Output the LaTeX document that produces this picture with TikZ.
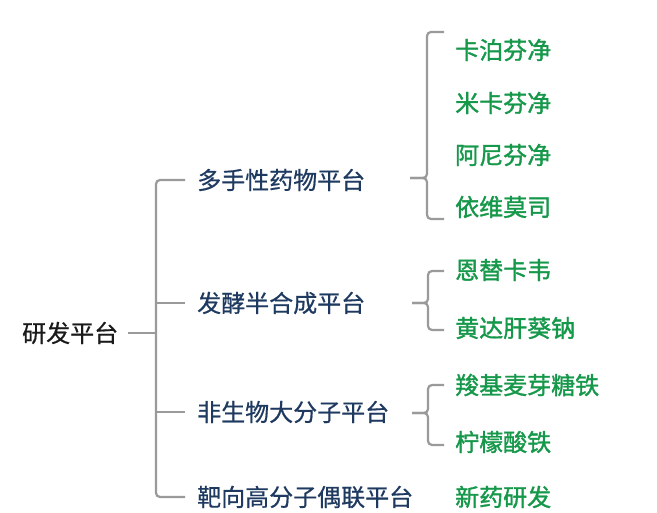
\documentclass[tikz,border=0pt]{standalone}
\usepackage{fontspec}
\newfontfamily\cjk[FakeBold=0.6]{Noto Sans CJK SC}
\newfontfamily\cjkb[FakeBold=1.4]{Noto Sans CJK SC}
\definecolor{conncol}{HTML}{9A9A9A}
\definecolor{navytext}{HTML}{1F3A60}
\definecolor{greentext}{HTML}{16984A}
\definecolor{roottext}{HTML}{1A1A1A}
\tikzset{
  conn/.style={draw=conncol, line width=2.2pt, rounded corners=4pt},
  txt/.style={inner sep=0pt, anchor=west, font=\cjk\fontsize{24}{26}\selectfont},
  rootlbl/.style={txt, text=roottext},
  midlbl/.style={txt, text=navytext},
  leaflbl/.style={txt, text=greentext, font=\cjkb\fontsize{24}{26}\selectfont},
}
\begin{document}
\begin{tikzpicture}[x=1pt,y=-1pt]
\useasboundingbox[fill=white] (0,0) rectangle (657,513);
% nodes
\node[rootlbl] (root) at (22,333) {研发平台};
\node[midlbl] (p1) at (197,180) {多手性药物平台};
\node[midlbl] (p2) at (197,303) {发酵半合成平台};
\node[midlbl] (p3) at (197,412) {非生物大分子平台};
\node[midlbl] (p4) at (197,497) {靶向高分子偶联平台};
\node[leaflbl] (c1) at (455,50) {卡泊芬净};
\node[leaflbl] (c2) at (455,103) {米卡芬净};
\node[leaflbl] (c3) at (455,155) {阿尼芬净};
\node[leaflbl] (c4) at (455,207) {依维莫司};
\node[leaflbl] (c5) at (455,270) {恩替卡韦};
\node[leaflbl] (c6) at (455,328) {黄达肝葵钠};
\node[leaflbl] (c7) at (455,385) {羧基麦芽糖铁};
\node[leaflbl] (c8) at (455,442) {柠檬酸铁};
\node[leaflbl] (c9) at (455,497) {新药研发};
% trunk
\coordinate (t) at (156,333);
\draw[conn] ([xshift=-12pt]p1.west) -| (t) |- ([xshift=-12pt]p4.west);
\draw[conn] ([xshift=-12pt]p2.west) -- (t |- p2.west);
\draw[conn] ([xshift=-12pt]p3.west) -- (t |- p3.west);
\draw[conn] ([xshift=10pt]root.east) -- (t);
% brace 1
\coordinate (k1) at (410,178);
\draw[conn] ([xshift=-11pt,yshift=18pt]c1.west) -- (427,32) -- (427,178) -- (k1);
\draw[conn] (k1) -- (427,178) -- (427,219) -- ([xshift=-11pt,yshift=-12pt]c4.west);
% brace 2
\coordinate (k2) at (412,303);
\draw[conn] ([xshift=-11pt,yshift=-1pt]c5.west) -- (428,271) -- (428,303) -- (k2);
\draw[conn] (k2) -- (428,303) -- (428,330) -- ([xshift=-11pt,yshift=-2pt]c6.west);
% brace 3
\coordinate (k3) at (412,413);
\draw[conn] ([xshift=-11pt]c7.west) -- (428,385) -- (428,413) -- (k3);
\draw[conn] (k3) -- (428,413) -- (428,445) -- ([xshift=-11pt,yshift=-3pt]c8.west);
\end{tikzpicture}
\end{document}
